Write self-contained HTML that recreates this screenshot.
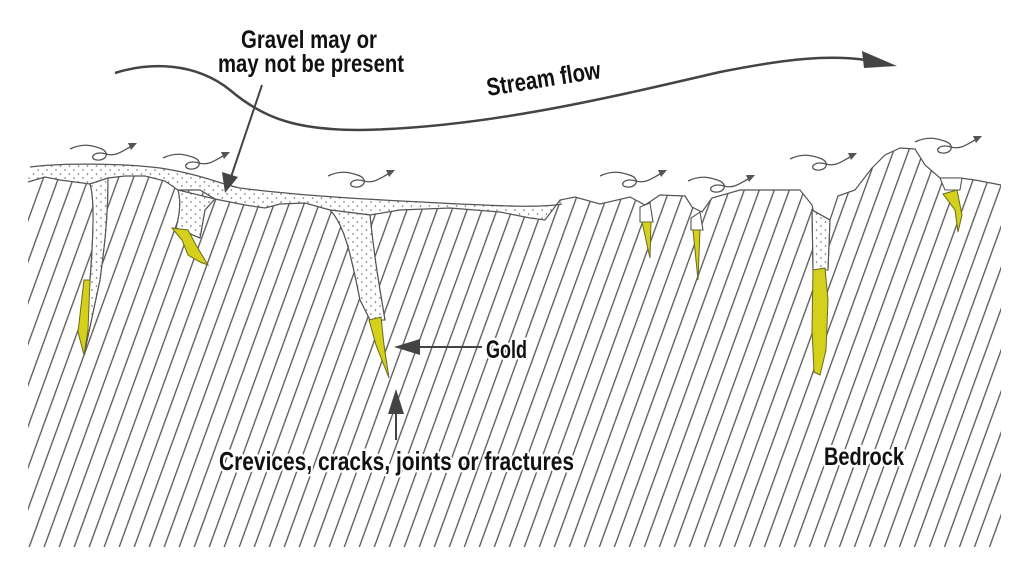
<!DOCTYPE html>
<html><head><meta charset="utf-8"><style>
html,body{margin:0;padding:0;background:#fff;}
svg{display:block;}
.t{font-family:"Liberation Sans Narrow","Liberation Sans",sans-serif;font-weight:bold;fill:#111;}
</style></head><body>
<svg width="1024" height="574" viewBox="0 0 1024 574" xmlns="http://www.w3.org/2000/svg">
<defs>
<pattern id="h" patternUnits="userSpaceOnUse" width="14.1" height="40" patternTransform="rotate(20)">
<line x1="3" y1="0" x2="3" y2="40" stroke="#555" stroke-width="1.3"/>
</pattern>
<pattern id="d" patternUnits="userSpaceOnUse" width="9" height="8">
<circle cx="2" cy="2" r="0.8" fill="#666"/><circle cx="6.5" cy="6" r="0.8" fill="#666"/>
</pattern>
<g id="sw" fill="none" stroke="#555" stroke-width="1.3">
<path d="M0,6 C12,0 22,2 32,6 C40,10 36,18 27,17 C18,16 24,7 36,11 C46,14 52,8 62,3"/>
<path d="M58,0 L67,0 L61,7 Z" fill="#555" stroke="none"/>
</g>
</defs>

<!-- bedrock -->
<path d="M28,182 L45,177 L60,180 L90,184 L108,178 L125,176 L145,176 L165,181 L178,190 L200,190 L215,199 L245,205 L265,208 L280,204 L305,203 L330,210 L370,215 L400,210 L450,208 L500,212 L530,218 L545,220 L560,200 L575,197 L600,204 L630,197 L645,205 L660,195 L685,196 L692,207 L702,212 L712,198 L740,190 L800,190 L812,205 L815,218 L830,220 L838,196 L855,190 L872,168 L885,155 L900,148 L915,149 L925,165 L940,178 L960,178 L975,180 L1001,185 L1001,547 L28,547 Z" fill="url(#h)" stroke="none"/>

<!-- gravel layer -->
<path d="M30,167 C60,163 120,163 160,168 C200,174 220,184 240,188 C300,196 380,200 440,203 C500,206 540,208 562,204 L560,200 L545,220 L530,218 L500,212 L450,208 L400,210 L370,215 L330,210 L305,203 L280,204 L265,208 L245,205 L215,199 L200,190 L178,190 L165,181 L145,176 L125,176 L108,178 L90,184 L60,180 L45,177 L28,182 Z" fill="#fff" stroke="none"/>
<path d="M30,167 C60,163 120,163 160,168 C200,174 220,184 240,188 C300,196 380,200 440,203 C500,206 540,208 562,204 L560,200 L545,220 L530,218 L500,212 L450,208 L400,210 L370,215 L330,210 L305,203 L280,204 L265,208 L245,205 L215,199 L200,190 L178,190 L165,181 L145,176 L125,176 L108,178 L90,184 L60,180 L45,177 L28,182 Z" fill="url(#d)" stroke="none"/>
<path d="M30,167 C60,163 120,163 160,168 C200,174 220,184 240,188 C300,196 380,200 440,203 C500,206 540,208 562,204" fill="none" stroke="#555" stroke-width="1.3"/>

<path d="M28,182 L45,177 L60,180 L90,184 L108,178 L125,176 L145,176 L165,181 L178,190 L200,190 L215,199 L245,205 L265,208 L280,204 L305,203 L330,210 L370,215 L400,210 L450,208 L500,212 L530,218 L545,220 L560,200 L575,197 L600,204 L630,197 L645,205 L660,195 L685,196 L692,207 L702,212 L712,198 L740,190 L800,190 L812,205 L815,218 L830,220 L838,196 L855,190 L872,168 L885,155 L900,148 L915,149 L925,165 L940,178 L960,178 L975,180 L1001,185" fill="none" stroke="#555" stroke-width="1.2"/>

<!-- cracks -->
<g stroke="#555" stroke-width="1.1">
<path d="M90,184 C95,200 93,240 90,280 L84,355 L100,280 C104,250 108,220 108,178 Z" fill="#fff"/>
<path d="M90,184 C95,200 93,240 90,280 L84,355 L100,280 C104,250 108,220 108,178 Z" fill="url(#d)"/>
<path d="M178,190 C182,205 178,220 176,228 L200,238 L205,210 L215,199 Z" fill="#fff"/>
<path d="M178,190 C182,205 178,220 176,228 L200,238 L205,210 L215,199 Z" fill="url(#d)"/>
<path d="M330,210 C345,225 352,260 360,300 L370,320 L385,320 L380,290 C375,260 372,235 370,215 Z" fill="#fff"/>
<path d="M330,210 C345,225 352,260 360,300 L370,320 L385,320 L380,290 C375,260 372,235 370,215 Z" fill="url(#d)"/>
<path d="M640,207 L640,222 L653,222 L650,203 Z" fill="#fff"/>
<path d="M691,218 L691,230 L703,230 L700,212 Z" fill="#fff"/>
<path d="M812,210 L813,270 L828,270 L830,220 Z" fill="#fff"/>
<path d="M812,210 L813,270 L828,270 L830,220 Z" fill="url(#d)"/>
<path d="M940,178 L945,190 L960,190 L962,178 Z" fill="#fff"/>
</g>

<!-- gold -->
<g fill="#d4d01c" stroke="#6a6a20" stroke-width="1">
<path d="M84,280 L90,280 L88,330 L84,355 L78,332 Z"/>
<path d="M172,228 L188,230 L196,245 L208,265 L200,262 L188,255 L182,240 Z"/>
<path d="M369,320 L381,317 L384,345 L389,378 L376,345 Z"/>
<path d="M642,222 L651,222 L650,258 Z"/>
<path d="M693,230 L700,230 L698,280 Z"/>
<path d="M813,270 L825,268 L828,300 L826,350 L820,375 L814,372 L812,330 Z"/>
<path d="M943,194 L957,190 L962,215 L958,232 L955,210 Z"/>
</g>

<!-- swirls -->
<use href="#sw" transform="translate(70,143)"/>
<use href="#sw" transform="translate(163,152)"/>
<use href="#sw" transform="translate(328,170)"/>
<use href="#sw" transform="translate(600,170)"/>
<use href="#sw" transform="translate(688,175)"/>
<use href="#sw" transform="translate(790,153)"/>
<use href="#sw" transform="translate(915,136)"/>

<!-- stream flow -->
<path d="M115,73 C150,62 195,62 230,90 C265,120 300,130 360,130 C480,128 600,100 720,72 C790,58 830,55 866,60" fill="none" stroke="#444" stroke-width="2.5"/>
<path d="M897,66 L862,51 L864,68 Z" fill="#444"/>

<!-- gravel arrow -->
<line x1="262" y1="85" x2="230" y2="180" stroke="#444" stroke-width="2"/>
<path d="M225,193 L222,172 L238,177 Z" fill="#444"/>

<!-- gold arrow -->
<line x1="482" y1="347" x2="405" y2="347" stroke="#444" stroke-width="2"/>
<path d="M394,347 L420,339 L420,355 Z" fill="#444"/>

<!-- crevices arrow -->
<line x1="396" y1="440" x2="396" y2="400" stroke="#444" stroke-width="2"/>
<path d="M396,389 L388,414 L404,414 Z" fill="#444"/>

<g class="t" stroke="#fff" stroke-width="5" paint-order="stroke" stroke-linejoin="round">
<text x="309" y="48" font-size="25" text-anchor="middle" textLength="136" lengthAdjust="spacingAndGlyphs">Gravel may or</text>
<text x="311" y="72" font-size="25" text-anchor="middle" textLength="186" lengthAdjust="spacingAndGlyphs">may not be present</text>
<text x="0" y="0" font-size="25" textLength="115" lengthAdjust="spacingAndGlyphs" transform="translate(488,96) rotate(-9)">Stream flow</text>
<text x="486" y="358" font-size="25" textLength="41" lengthAdjust="spacingAndGlyphs">Gold</text>
<text x="219" y="470" font-size="26" textLength="355" lengthAdjust="spacingAndGlyphs">Crevices, cracks, joints or fractures</text>
<text x="824" y="465" font-size="25" textLength="80" lengthAdjust="spacingAndGlyphs">Bedrock</text>
</g>
</svg>
</body></html>
